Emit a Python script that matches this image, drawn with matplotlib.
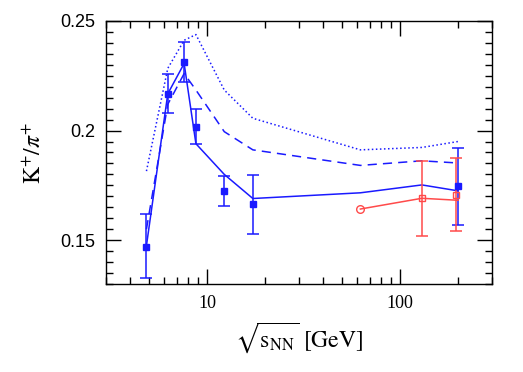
import matplotlib
matplotlib.use("Agg")
import matplotlib.pyplot as plt
from matplotlib.ticker import FixedLocator, FixedFormatter, NullFormatter

plt.rcParams['mathtext.fontset'] = 'stix'

# measured K+/pi+ (blue, filled squares)
data_x = [4.86, 6.27, 7.62, 8.77, 12.3, 17.3, 200]
data_y = [0.1471, 0.2168, 0.2314, 0.2018, 0.1723, 0.1664, 0.1745]
data_lo = [0.0145, 0.0086, 0.0091, 0.0078, 0.0069, 0.0134, 0.0174]
data_hi = [0.0150, 0.0088, 0.0092, 0.0081, 0.0069, 0.0131, 0.0174]

# red points
red_circ_x = [62.4]
red_circ_y = [0.1642]
red_sq_x = [130, 196]
red_sq_y = [0.1691, 0.1708]
red_sq_lo = [0.0170, 0.0168]
red_sq_hi = [0.0168, 0.0166]
red_line_x = [62.4, 130, 200]
red_line_y = [0.1642, 0.1691, 0.1682]

# model curves
model_x = [4.86, 6.27, 7.62, 8.77, 12.3, 17.3, 62.4, 130, 200]
solid_y = [0.1475, 0.2168, 0.2306, 0.1940, 0.1800, 0.1690, 0.1716, 0.1752, 0.1725]
dashed_y = [0.1550, 0.2120, 0.2260, 0.2185, 0.1995, 0.1912, 0.1841, 0.1862, 0.1852]
dotted_y = [0.1815, 0.2284, 0.2412, 0.2438, 0.2185, 0.2056, 0.1912, 0.1923, 0.1950]

blue = '#1a1aff'
red = '#ff4a4a'

fig = plt.figure(figsize=(5.23, 3.72), dpi=100)
ax = fig.add_axes([0.2027, 0.2366, 0.738, 0.707])

ax.plot(model_x, solid_y, '-', color=blue, lw=1.1)
ax.plot(model_x, dashed_y, '--', color=blue, lw=1.1, dashes=(6, 4))
ax.plot(model_x, dotted_y, ':', color=blue, lw=1.1)

ax.errorbar(data_x, data_y, yerr=[data_lo, data_hi], fmt='s', color=blue,
            ms=4, capsize=4, elinewidth=1.1, capthick=1.1)

ax.plot(red_line_x, red_line_y, '-', color=red, lw=1.1)
ax.errorbar(red_sq_x, red_sq_y, yerr=[red_sq_lo, red_sq_hi], fmt='s', color=red,
            mfc='none', ms=5, capsize=4, elinewidth=1.1, capthick=1.1)
ax.plot(red_circ_x, red_circ_y, 'o', color=red, mfc='none', ms=5.5)

ax.set_xscale('log')
ax.set_xlim(3, 300)
ax.set_ylim(0.13, 0.25)

ax.xaxis.set_major_locator(FixedLocator([10, 100]))
ax.xaxis.set_major_formatter(FixedFormatter(['10', '100']))
ax.xaxis.set_minor_locator(FixedLocator([3, 4, 5, 6, 7, 8, 9, 20, 30, 40, 50, 60, 70, 80, 90, 200, 300]))
ax.xaxis.set_minor_formatter(NullFormatter())
ax.yaxis.set_major_locator(FixedLocator([0.15, 0.2, 0.25]))
ax.yaxis.set_major_formatter(FixedFormatter(['0.15', '0.2', '0.25']))
ax.yaxis.set_minor_locator(FixedLocator([0.13 + 0.005 * i for i in range(25)]))

ax.tick_params(which='both', direction='in', top=True, right=True, width=1)
ax.tick_params(which='major', length=11, pad=8, labelsize=12)
ax.tick_params(which='minor', length=5)
for lab in ax.get_yticklabels():
    lab.set_family('Liberation Sans')
    lab.set_fontsize(13)
for lab in ax.get_xticklabels():
    lab.set_family('Liberation Serif')
    lab.set_fontsize(13)
for s in ax.spines.values():
    s.set_linewidth(1)

ax.set_ylabel(r'$\mathrm{K}^{+}/\pi^{+}$', fontsize=17, labelpad=10)
ax.set_xlabel(r'$\sqrt{\mathrm{s}_{\mathrm{NN}}}\ [\mathrm{GeV}]$', fontsize=17, labelpad=6)

fig.savefig('out.png', dpi=100)
